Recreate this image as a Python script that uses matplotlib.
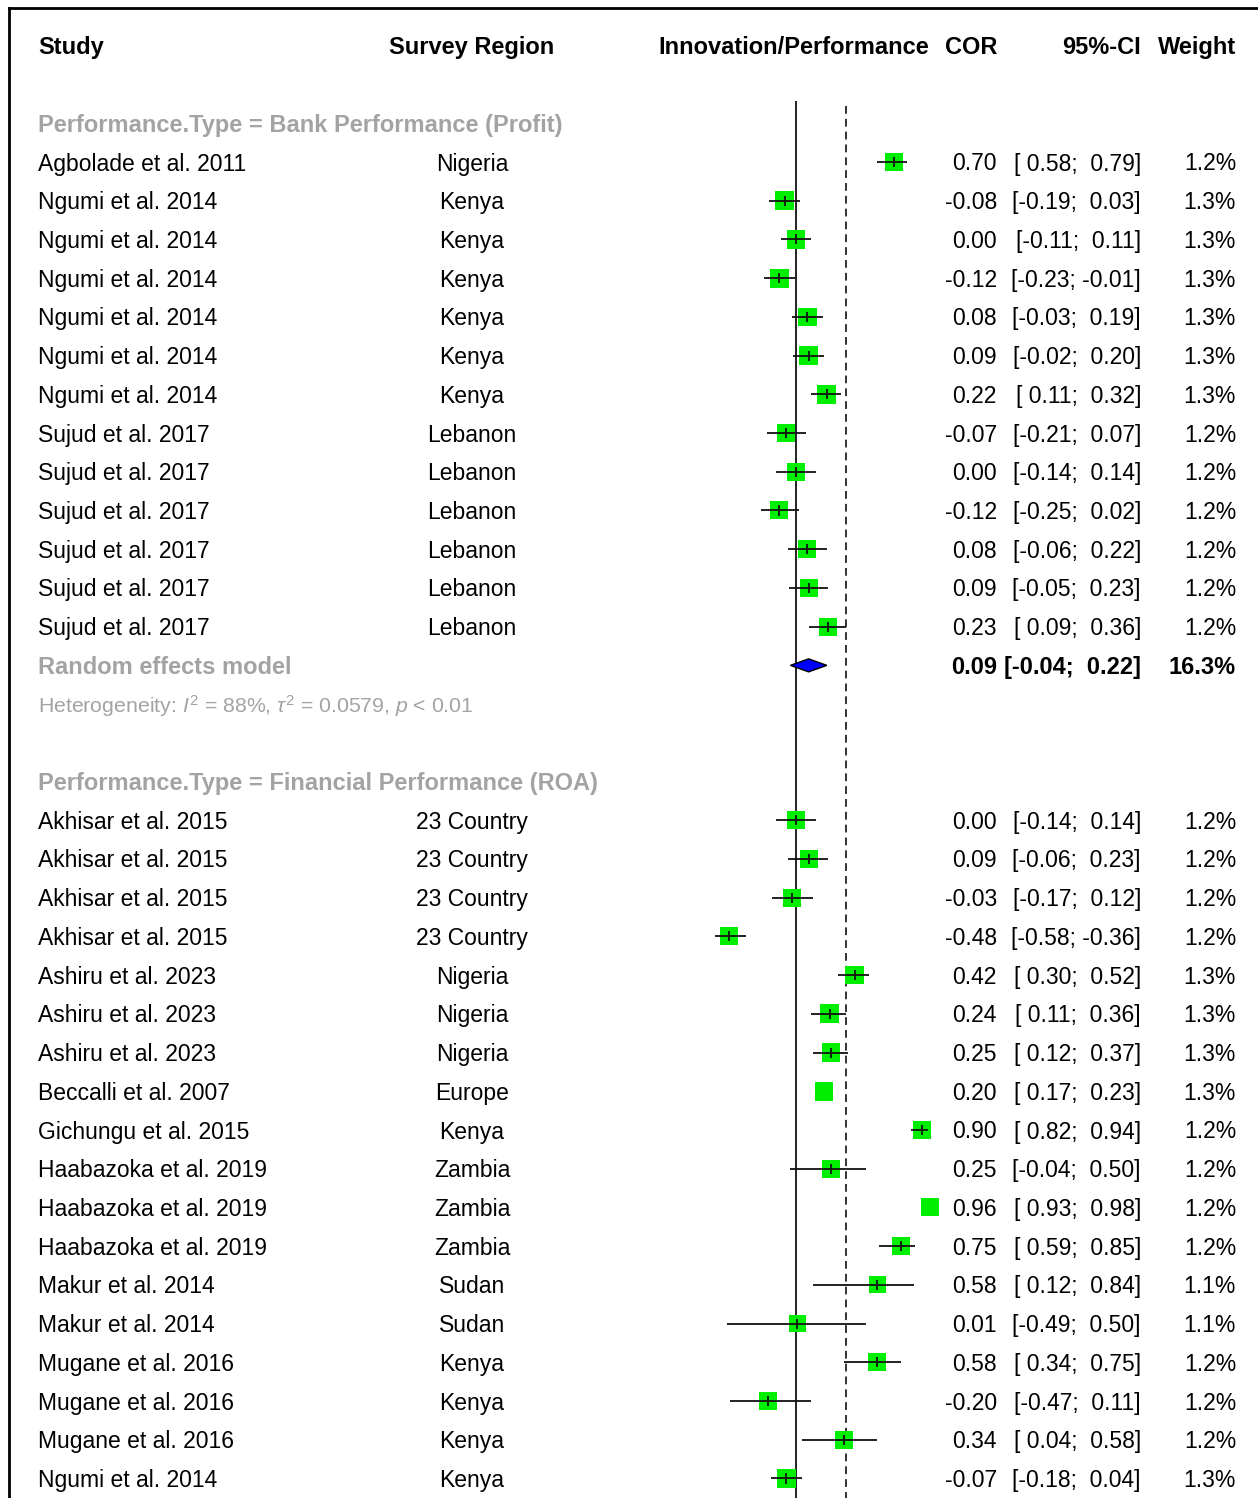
import matplotlib
matplotlib.use("Agg")
import matplotlib.pyplot as plt
import matplotlib.transforms as mtransforms
from matplotlib.lines import Line2D
import numpy as np

plt.rcParams["font.family"] = ["Liberation Sans", "DejaVu Sans"]
plt.rcParams["mathtext.fontset"] = "custom"
plt.rcParams["mathtext.rm"] = "Liberation Sans"
plt.rcParams["mathtext.it"] = "Liberation Sans:italic"
plt.rcParams["mathtext.bf"] = "Liberation Sans:bold"

# ---- data ----
group1_label = "Performance.Type = Bank Performance (Profit)"
group1_study = ["Agbolade et al. 2011"] + ["Ngumi et al. 2014"] * 6 + ["Sujud et al. 2017"] * 6
group1_region = ["Nigeria"] + ["Kenya"] * 6 + ["Lebanon"] * 6
group1_cor = [0.70, -0.08, 0.00, -0.12, 0.08, 0.09, 0.22, -0.07, 0.00, -0.12, 0.08, 0.09, 0.23]
group1_lo = [0.58, -0.19, -0.11, -0.23, -0.03, -0.02, 0.11, -0.21, -0.14, -0.25, -0.06, -0.05, 0.09]
group1_hi = [0.79, 0.03, 0.11, -0.01, 0.19, 0.20, 0.32, 0.07, 0.14, 0.02, 0.22, 0.23, 0.36]
group1_w = [1.2, 1.3, 1.3, 1.3, 1.3, 1.3, 1.3, 1.2, 1.2, 1.2, 1.2, 1.2, 1.2]
group1_re = (0.09, -0.04, 0.22, 16.3)
group1_het = r"Heterogeneity: $I^2$ = 88%, $\tau^2$ = 0.0579, $p$ < 0.01"

group2_label = "Performance.Type = Financial Performance (ROA)"
group2_study = (["Akhisar et al. 2015"] * 4 + ["Ashiru et al. 2023"] * 3 + ["Beccalli et al. 2007",
                "Gichungu et al. 2015"] + ["Haabazoka et al. 2019"] * 3 + ["Makur et al. 2014"] * 2
                + ["Mugane et al. 2016"] * 3 + ["Ngumi et al. 2014"])
group2_region = (["23 Country"] * 4 + ["Nigeria"] * 3 + ["Europe", "Kenya"] + ["Zambia"] * 3
                 + ["Sudan"] * 2 + ["Kenya"] * 3 + ["Kenya"])
group2_cor = [0.00, 0.09, -0.03, -0.48, 0.42, 0.24, 0.25, 0.20, 0.90, 0.25, 0.96, 0.75, 0.58, 0.01,
              0.58, -0.20, 0.34, -0.07]
group2_lo = [-0.14, -0.06, -0.17, -0.58, 0.30, 0.11, 0.12, 0.17, 0.82, -0.04, 0.93, 0.59, 0.12, -0.49,
             0.34, -0.47, 0.04, -0.18]
group2_hi = [0.14, 0.23, 0.12, -0.36, 0.52, 0.36, 0.37, 0.23, 0.94, 0.50, 0.98, 0.85, 0.84, 0.50,
             0.75, 0.11, 0.58, 0.04]
group2_w = [1.2, 1.2, 1.2, 1.2, 1.3, 1.3, 1.3, 1.3, 1.2, 1.2, 1.2, 1.2, 1.1, 1.1, 1.2, 1.2, 1.2, 1.3]

overall_cor = 0.36  # dashed reference line

headers = ["Study", "Survey Region", "Innovation/Performance", "COR", "95%-CI", "Weight"]

# ---- layout ----
W, H = 1258, 1498
X0_PX, PPU = 796, 140.0          # pixel of COR = 0, pixels per unit
ROW0_PX, ROW_H = 162, 38.72      # pixel of first study row, row height
GRAY = "#a3a3a3"
FS = 16.5
FS_BOLD = 17.0

fig = plt.figure(figsize=(W / 100, H / 100), dpi=100)
ax = fig.add_axes([0, 0, 1, 1])
ax.set_xlim(-X0_PX / PPU, (W - X0_PX) / PPU)
ax.set_ylim((H - ROW0_PX) / ROW_H, -ROW0_PX / ROW_H)
ax.axis("off")

tr = mtransforms.blended_transform_factory(fig.transFigure, ax.transData)
base = 8.5 / ROW_H


def txt(xpx, row, s, ha="left", **kw):
    if kw.get("fontweight") == "bold":
        kw.setdefault("fontsize", FS_BOLD)
    kw.setdefault("fontsize", FS)
    ax.text(xpx / W, row + base, s, ha=ha, va="baseline", transform=tr, **kw)


# header
hdr_x = [38, 472, 794, 997, 1141, 1236]
hdr_ha = ["left", "center", "center", "right", "right", "right"]
for s, x, ha in zip(headers, hdr_x, hdr_ha):
    txt(x, -3, s, ha=ha, fontweight="bold")

rows1 = np.arange(len(group1_cor))
re_row = len(group1_cor)
het_row = re_row + 1
g2_head = het_row + 2
rows2 = np.arange(len(group2_cor)) + g2_head + 1

# reference lines
ax.vlines(0, -1.58, 40, color="#222222", lw=1.4, zorder=1)
ax.vlines(overall_cor, -1.45, 40, color="#333333", lw=1.4, linestyles=(0, (4, 2.6)), zorder=1)


def draw_studies(rows, study, region, cor, lo, hi, w):
    cor = np.asarray(cor)
    lo = np.asarray(lo)
    hi = np.asarray(hi)
    w = np.asarray(w)
    side_px = 18.0 * np.sqrt(w / 1.2)
    ax.scatter(cor, rows, marker="s", s=(side_px * 0.72) ** 2, c="#00ee00", linewidths=0, zorder=2)
    show = (hi - lo) * PPU > 0.8 * side_px
    ax.hlines(rows[show], lo[show], hi[show], color="#111111", lw=1.3, zorder=3)
    ax.vlines(cor[show], rows[show] - 0.13, rows[show] + 0.13, color="#111111", lw=1.3, zorder=3)
    for r, s, g, c, l, h, ww in zip(rows, study, region, cor, lo, hi, w):
        txt(38, r, s)
        txt(472, r, g, ha="center")
        txt(997, r, f"{c:.2f}", ha="right")
        txt(1141, r, f"[{l:5.2f}; {h:5.2f}]", ha="right")
        txt(1236, r, f"{ww:.1f}%", ha="right")


# group 1
txt(38, -1, group1_label, color=GRAY, fontweight="bold")
draw_studies(rows1, group1_study, group1_region, group1_cor, group1_lo, group1_hi, group1_w)
est, lo, hi, wt = group1_re
dh = 6.5 / ROW_H
ax.fill([lo, est, hi, est], [re_row, re_row - dh, re_row, re_row + dh],
        facecolor="#0000ff", edgecolor="black", lw=1.0, zorder=3)
txt(38, re_row, "Random effects model", color=GRAY, fontweight="bold")
txt(997, re_row, f"{est:.2f}", ha="right", fontweight="bold")
txt(1141, re_row, f"[{lo:5.2f}; {hi:5.2f}]", ha="right", fontweight="bold")
txt(1236, re_row, f"{wt:.1f}%", ha="right", fontweight="bold")
txt(38, het_row, group1_het, color=GRAY, fontsize=15.3)

# group 2
txt(38, g2_head, group2_label, color=GRAY, fontweight="bold")
draw_studies(rows2, group2_study, group2_region, group2_cor, group2_lo, group2_hi, group2_w)

# frame (cropped on the right and bottom)
fig.add_artist(Line2D([9 / W, 9 / W], [0, 1 - 8 / H], transform=fig.transFigure, color="black", lw=2.0))
fig.add_artist(Line2D([9 / W, 1], [1 - 8 / H, 1 - 8 / H], transform=fig.transFigure, color="black", lw=2.0))

fig.savefig("out.png", dpi=100)
